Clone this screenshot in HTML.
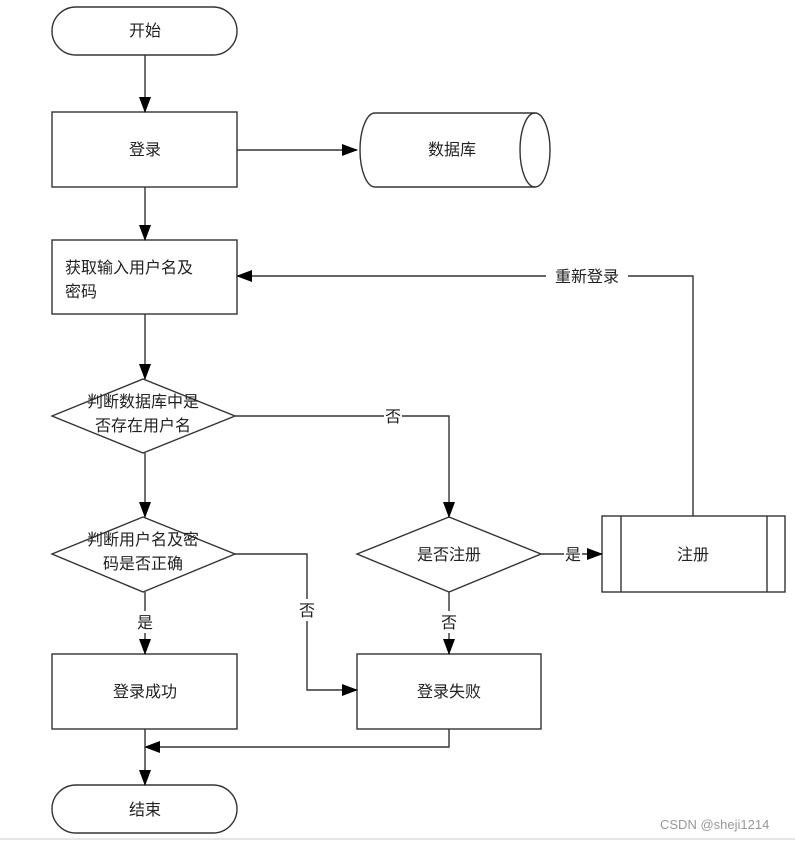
<!DOCTYPE html>
<html><head><meta charset="utf-8"><style>
body{margin:0;background:#fff;width:795px;height:842px;overflow:hidden}
text{font-family:"Liberation Sans","Noto Sans CJK SC",sans-serif;font-size:16px;fill:#222}
</style></head><body>
<svg width="795" height="842" viewBox="0 0 795 842" xmlns="http://www.w3.org/2000/svg">
<defs><marker id="a" markerWidth="16" markerHeight="12" refX="15" refY="6" orient="auto" markerUnits="userSpaceOnUse"><path d="M0,0 L16,6 L0,12 z" fill="#000"/></marker></defs>
<g fill="none" stroke="#333" stroke-width="1.4">
<rect x="52" y="7" width="185" height="48" rx="24"/>
<rect x="52" y="112" width="185" height="75"/>
<path d="M375,113 H535 A15,37 0 0 1 535,187 H375 A15,37 0 0 1 375,113 Z"/>
<path d="M535,113 A15,37 0 0 0 535,187"/>
<rect x="52" y="240" width="185" height="74"/>
<polygon points="52,416 143,379 235,416 143,453"/>
<polygon points="52,554 143,517 235,554 143,592"/>
<polygon points="357,554 449,517 541,554 449,592"/>
<rect x="602" y="516" width="183" height="76"/>
<line x1="621" y1="516" x2="621" y2="592"/><line x1="767" y1="516" x2="767" y2="592"/>
<rect x="52" y="654" width="185" height="75"/>
<rect x="357" y="654" width="184" height="75"/>
<rect x="52" y="785" width="185" height="48" rx="24"/>
</g>
<g fill="none" stroke="#333" stroke-width="1.4" marker-end="url(#a)">
<line x1="145" y1="55" x2="145" y2="112"/>
<line x1="237" y1="150" x2="357" y2="150"/>
<line x1="145" y1="187" x2="145" y2="240"/>
<line x1="145" y1="314" x2="145" y2="379"/>
<polyline points="235,416 449,416 449,517"/>
<line x1="145" y1="453" x2="145" y2="517"/>
<polyline points="235,554 307,554 307,690 357,690"/>
<line x1="541" y1="554" x2="602" y2="554"/>
<polyline points="693,516 693,276 237,276"/>
<line x1="449" y1="592" x2="449" y2="654"/>
<line x1="145" y1="592" x2="145" y2="654"/>
<polyline points="449,729 449,747 145,747"/>
<line x1="145" y1="729" x2="145" y2="785"/>
</g>
<g fill="#fff"><rect x="384" y="405" width="18" height="22"/><rect x="298" y="599" width="18" height="22"/><rect x="564" y="543" width="18" height="22"/><rect x="546" y="265" width="82" height="22"/><rect x="440" y="611" width="18" height="22"/><rect x="136" y="611" width="18" height="22"/></g>
<g text-anchor="middle">
<text x="145" y="36">开始</text>
<text x="145" y="155">登录</text>
<text x="452" y="155">数据库</text>
<text x="143" y="407">判断数据库中是</text><text x="143" y="431">否存在用户名</text>
<text x="143" y="545">判断用户名及密</text><text x="143" y="569">码是否正确</text>
<text x="449" y="560">是否注册</text>
<text x="693" y="560">注册</text>
<text x="145" y="697">登录成功</text>
<text x="449" y="697">登录失败</text>
<text x="145" y="815">结束</text>
<text x="393" y="422">否</text><text x="307" y="616">否</text><text x="573" y="560">是</text>
<text x="587" y="282">重新登录</text><text x="449" y="628">否</text><text x="145" y="628">是</text>
</g>
<text x="65" y="273">获取输入用户名及</text><text x="65" y="297">密码</text>
<text x="660" y="829" style="font-size:13px;fill:#999">CSDN @sheji1214</text>
<line x1="0" y1="839" x2="795" y2="839" stroke="#ccc"/>
</svg>
</body></html>
